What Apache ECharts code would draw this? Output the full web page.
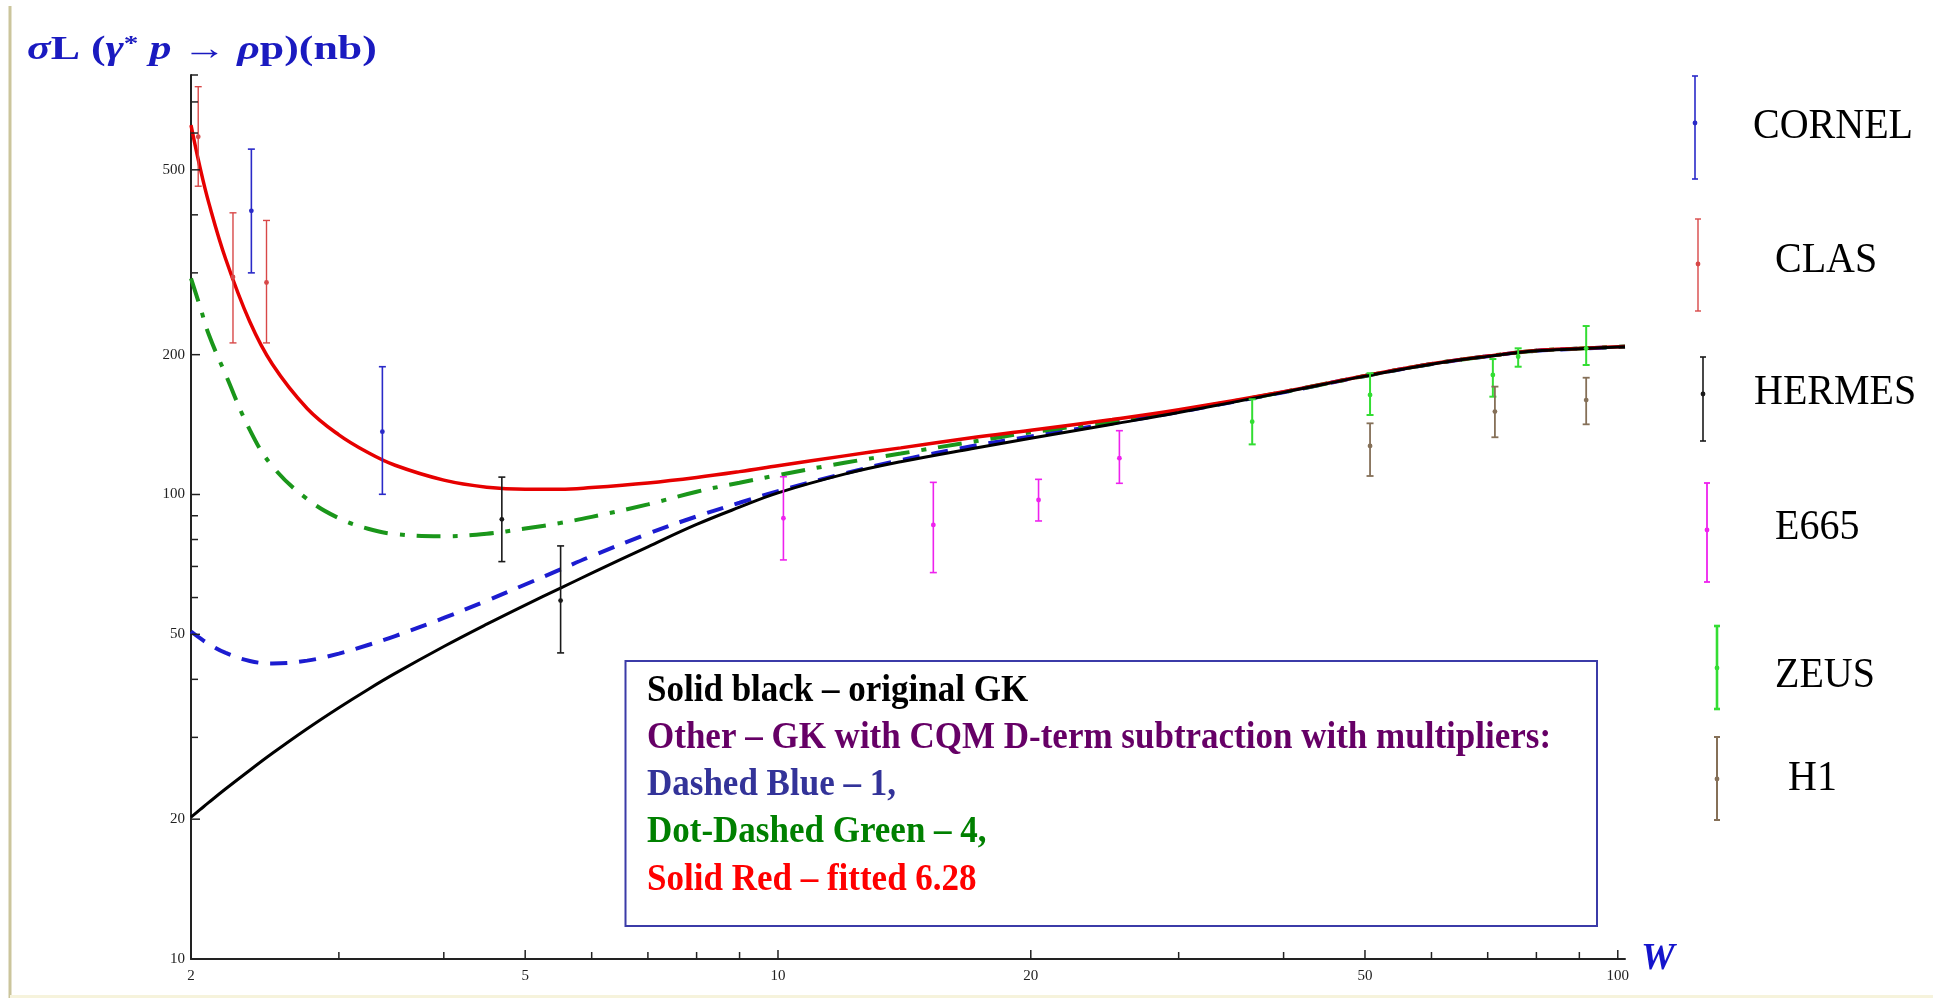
<!DOCTYPE html>
<html><head><meta charset="utf-8">
<script src="https://cdn.jsdelivr.net/npm/echarts@6/dist/echarts.min.js"></script>
<style>html,body{margin:0;padding:0;background:#fff}#c{width:1933px;height:998px}</style>
</head><body><div id="c"></div>
<script>
// ---- curve data (W grid and sigma_L values, nb) ----
const W = [2, 2.05, 2.1, 2.2, 2.35, 2.5, 2.75, 3, 3.25, 3.5, 4, 4.5, 5, 5.5, 6, 7, 8, 9, 10, 12, 14, 17, 20, 25, 30, 40, 50, 60, 70, 80, 90, 102];
const gkOriginal = [20.2, 20.96, 21.73, 23.25, 25.49, 27.72, 31.31, 34.75, 38.05, 41.19, 47.07, 52.58, 57.81, 62.81, 67.69, 77.16, 86.21, 93.9, 100.8, 110.6, 117.6, 125.5, 132.1, 141.7, 150.1, 165.9, 179.8, 190.8, 198.3, 203.8, 205.9, 208.0];
const dashedBlue = [50.7, 49.04, 47.64, 45.59, 43.81, 43.27, 43.89, 45.44, 47.42, 49.57, 54.22, 59.08, 64.0, 68.89, 73.67, 82.3, 89.7, 96.0, 101.7, 111.0, 118.5, 127.0, 133.4, 142.3, 150.5, 166.0, 179.9, 190.9, 198.4, 203.9, 206.0, 208.1];
const dotDashedGreen = [292, 254, 221, 181, 137.7, 115, 97.8, 88.9, 84.4, 82.2, 81.3, 82.3, 84.5, 86.8, 89.5, 95.2, 101.4, 106.0, 110.1, 117.0, 122.5, 129.8, 136.1, 143.5, 151.3, 166.2, 180.0, 191.0, 198.5, 204.0, 206.1, 208.2];
const solidRed = [624, 505.9, 424.4, 321, 235.4, 190.7, 153.2, 134.4, 123.1, 115.6, 107.4, 103.7, 102.6, 102.6, 103.5, 105.9, 108.8, 112.0, 115.3, 121.1, 126.0, 132.5, 137.5, 145.0, 152.2, 166.5, 180.1, 191.1, 198.6, 204.1, 206.2, 208.3];

// ---- experimental points: [W, value, low, high] ----
const cornel = [[2.36, 408, 300, 554], [3.38, 136.5, 100.1, 188.4]];
const clas = [[2.04, 589, 461, 755], [2.244, 294, 212, 404], [2.46, 286, 212, 389]];
const hermes = [[4.69, 88.4, 71.7, 109], [5.51, 59.1, 45.6, 77.5]];
const e665 = [[10.15, 88.9, 72.3, 109.2], [15.31, 86, 67.9, 106.2], [20.43, 97.3, 87.7, 107.8], [25.5, 119.7, 105.7, 137.2]];
const zeus = [[36.7, 143.5, 128.2, 160.3], [50.7, 163.8, 148.3, 182.4], [71, 180.8, 162.4, 195.7], [76.1, 198, 188.4, 206.4], [91.7, 206.4, 190, 230.5]];
const h1 = [[50.7, 127.2, 109.6, 142.3], [71.4, 150.8, 132.8, 170.7], [91.7, 159.7, 141.6, 178.4]];

// ---- ticks ----
const xTickMajor = [2, 5, 10, 20, 50, 100];
const xTickMinor = [3, 4, 6, 7, 8, 9, 30, 40, 60, 70, 80, 90];
const yTickMajor = [10, 20, 50, 100, 200, 500];
const yTickMinor = [30, 40, 60, 70, 80, 90, 300, 400, 600, 700, 800];
const X_MIN = 2, X_MAX = 102, Y_MIN = 10, Y_MAX = 800;

// ---- texts ----
const legendNames = ['CORNEL', 'CLAS', 'HERMES', 'E665', 'ZEUS', 'H1'];
const boxLines = [
  'Solid black \u2013 original GK',
  'Other \u2013 GK with CQM D-term subtraction with multipliers:',
  'Dashed Blue \u2013 1,',
  'Dot-Dashed Green \u2013 4,',
  'Solid Red \u2013 fitted 6.28'
];

const SERIF = '"Liberation Serif", "DejaVu Serif", serif';
const C = {
  black: '#000000', blue: '#1c1cd0', green: '#1a961a', red: '#e60000',
  cornel: '#2a2ac8', clas: '#d84848', hermes: '#1a1a1a', e665: '#ee22ee', zeus: '#33dd33', h1: '#857058'
};

const chart = echarts.init(document.getElementById('c'), null, { renderer: 'canvas' });
const pairs = ys => W.map((w, i) => [w, ys[i]]);

function errorBarSeries(name, data, color, lw) {
  return {
    type: 'custom', name, data, encode: { x: 0, y: 1 }, z: 5,
    renderItem(params, api) {
      const x = api.value(0);
      const c = api.coord([x, api.value(1)]);
      const lo = api.coord([x, api.value(2)]);
      const hi = api.coord([x, api.value(3)]);
      const cap = 3.5;
      const st = { stroke: color, lineWidth: lw };
      return { type: 'group', children: [
        { type: 'line', shape: { x1: lo[0], y1: lo[1], x2: hi[0], y2: hi[1] }, style: st },
        { type: 'line', shape: { x1: lo[0] - cap, y1: lo[1], x2: lo[0] + cap, y2: lo[1] }, style: st },
        { type: 'line', shape: { x1: hi[0] - cap, y1: hi[1], x2: hi[0] + cap, y2: hi[1] }, style: st },
        { type: 'circle', shape: { cx: c[0], cy: c[1], r: 2.4 }, style: { fill: color } }
      ] };
    }
  };
}

function xTickSeries() {
  const data = xTickMajor.map(v => [v, Y_MIN, 1]).concat(xTickMinor.map(v => [v, Y_MIN, 0]));
  return {
    type: 'custom', data, encode: { x: 0, y: 1 }, silent: true, z: 10, clip: false,
    renderItem(params, api) {
      const v = api.value(0), major = api.value(2) === 1;
      const p = api.coord([v, Y_MIN]);
      const len = major ? 9 : 7;
      const children = [{ type: 'line', shape: { x1: p[0], y1: p[1], x2: p[0], y2: p[1] - len }, style: { stroke: '#222', lineWidth: 1.5 } }];
      if (major) children.push({ type: 'text', style: { text: String(v), x: p[0], y: p[1] + 10, align: 'center', verticalAlign: 'top', font: '15px ' + SERIF, fill: '#222' } });
      return { type: 'group', children };
    }
  };
}
function yTickSeries() {
  const data = yTickMajor.map(v => [X_MIN, v, 1]).concat(yTickMinor.map(v => [X_MIN, v, 0]));
  return {
    type: 'custom', data, encode: { x: 0, y: 1 }, silent: true, z: 10, clip: false,
    renderItem(params, api) {
      const v = api.value(1), major = api.value(2) === 1;
      const p = api.coord([X_MIN, v]);
      const len = major ? 9 : 7;
      const children = [{ type: 'line', shape: { x1: p[0], y1: p[1], x2: p[0] + len, y2: p[1] }, style: { stroke: '#222', lineWidth: 1.5 } }];
      if (major) children.push({ type: 'text', style: { text: String(v), x: p[0] - 6, y: p[1], align: 'right', verticalAlign: 'middle', font: '15px ' + SERIF, fill: '#222' } });
      return { type: 'group', children };
    }
  };
}

// legend layout (pixels)
const legendLayout = [
  { gx: 1695, y1: 76, y2: 179, dot: 123, tx: 1753, ty: 127, color: C.cornel, lw: 1.6 },
  { gx: 1698, y1: 219, y2: 311, dot: 264, tx: 1775, ty: 261, color: C.clas, lw: 1.4 },
  { gx: 1703, y1: 357, y2: 441, dot: 394, tx: 1754, ty: 393, color: C.hermes, lw: 1.6 },
  { gx: 1707, y1: 483, y2: 582, dot: 530, tx: 1775, ty: 528, color: C.e665, lw: 1.8 },
  { gx: 1717, y1: 626, y2: 709, dot: 668, tx: 1775, ty: 676, color: C.zeus, lw: 2.6 },
  { gx: 1717, y1: 737, y2: 820, dot: 779, tx: 1788, ty: 779, color: C.h1, lw: 2.0 }
];
const legendGraphics = [];
legendNames.forEach((name, i) => {
  const L = legendLayout[i];
  const st = { stroke: L.color, lineWidth: L.lw };
  legendGraphics.push(
    { type: 'line', shape: { x1: L.gx, y1: L.y1, x2: L.gx, y2: L.y2 }, style: st },
    { type: 'line', shape: { x1: L.gx - 3, y1: L.y1, x2: L.gx + 3, y2: L.y1 }, style: st },
    { type: 'line', shape: { x1: L.gx - 3, y1: L.y2, x2: L.gx + 3, y2: L.y2 }, style: st },
    { type: 'circle', shape: { cx: L.gx, cy: L.dot, r: 2.4 }, style: { fill: L.color } },
    { type: 'text', x: L.tx, y: L.ty, scaleY: 1.06, style: { text: name, x: 0, y: 0, verticalAlign: 'middle', font: '40px ' + SERIF, fill: '#000' } }
  );
});

const boxColors = ['#000000', '#660066', '#333399', '#008000', '#ff0000'];
const boxGraphics = [{ type: 'rect', shape: { x: 625.5, y: 661, width: 971.5, height: 265 }, style: { fill: '#fff', stroke: '#3b3ba8', lineWidth: 2 }, z: 20 }];
boxLines.forEach((t, i) => {
  boxGraphics.push({ type: 'text', z: 21, x: 647, y: 691 + i * 47.2, scaleY: 1.08,
    style: { text: t, x: 0, y: 0, verticalAlign: 'middle', font: 'bold 35px ' + SERIF, fill: boxColors[i] } });
});

const TITLE_BLUE = '#1a1ac0';
const titleGraphic = {
  type: 'text', x: 27, y: 50, scaleX: 1.33, z: 30,
  style: {
    x: 0, y: 0, verticalAlign: 'middle',
    text: '{i|\u03c3}{n|L (}{i|\u03b3}{s|*}{i| p}{n| \u2192 }{i|\u03c1}{n|p)(nb)}',
    rich: {
      i: { fontFamily: SERIF, fontSize: 33, fontWeight: 'bold', fontStyle: 'italic', fill: TITLE_BLUE },
      n: { fontFamily: SERIF, fontSize: 33, fontWeight: 'bold', fill: TITLE_BLUE },
      s: { fontFamily: SERIF, fontSize: 22, fontWeight: 'bold', fill: TITLE_BLUE, verticalAlign: 'top' }
    }
  }
};

const option = {
  animation: false,
  backgroundColor: '#ffffff',
  grid: { left: 191, right: 308, top: 75, bottom: 39 },
  xAxis: {
    type: 'log', logBase: 10, min: X_MIN, max: X_MAX,
    name: 'W', nameLocation: 'end', nameGap: 16,
    nameTextStyle: { fontFamily: SERIF, fontSize: 38, fontStyle: 'italic', fontWeight: 'bold', color: '#1414cc', verticalAlign: 'middle' },
    axisLine: { lineStyle: { color: '#222', width: 2 } },
    axisTick: { show: false }, axisLabel: { show: false }, splitLine: { show: false }, minorTick: { show: false }
  },
  yAxis: {
    type: 'log', logBase: 10, min: Y_MIN, max: Y_MAX,
    axisLine: { show: true, lineStyle: { color: '#222', width: 2 } },
    axisTick: { show: false }, axisLabel: { show: false }, splitLine: { show: false }, minorTick: { show: false }
  },
  series: [
    { type: 'line', name: 'Dashed Blue', data: pairs(dashedBlue), smooth: 0.4, symbol: 'none', z: 3,
      lineStyle: { color: C.blue, width: 4, type: [17, 12] } },
    { type: 'line', name: 'Dot-Dashed Green', data: pairs(dotDashedGreen), smooth: 0.4, symbol: 'none', z: 3,
      lineStyle: { color: C.green, width: 4, type: [24, 12, 5, 12] } },
    { type: 'line', name: 'Solid Red', data: pairs(solidRed), smooth: 0.4, symbol: 'none', z: 3,
      lineStyle: { color: C.red, width: 3.5 } },
    { type: 'line', name: 'Solid black', data: pairs(gkOriginal), smooth: 0.4, symbol: 'none', z: 4,
      lineStyle: { color: C.black, width: 3 } },
    errorBarSeries('CORNEL', cornel, C.cornel, 1.6),
    errorBarSeries('CLAS', clas, C.clas, 1.4),
    errorBarSeries('HERMES', hermes, C.hermes, 1.6),
    errorBarSeries('E665', e665, C.e665, 1.6),
    errorBarSeries('ZEUS', zeus, C.zeus, 2.0),
    errorBarSeries('H1', h1, C.h1, 1.8),
    xTickSeries(),
    yTickSeries()
  ],
  graphic: [
    { type: 'line', shape: { x1: 10, y1: 6, x2: 10, y2: 998 }, style: { stroke: '#cbc59c', lineWidth: 3 } },
    { type: 'line', shape: { x1: 10, y1: 996.5, x2: 1933, y2: 996.5 }, style: { stroke: '#f6f3dc', lineWidth: 3 } },
    titleGraphic
  ].concat(legendGraphics, boxGraphics)
};
chart.setOption(option);
</script></body></html>
